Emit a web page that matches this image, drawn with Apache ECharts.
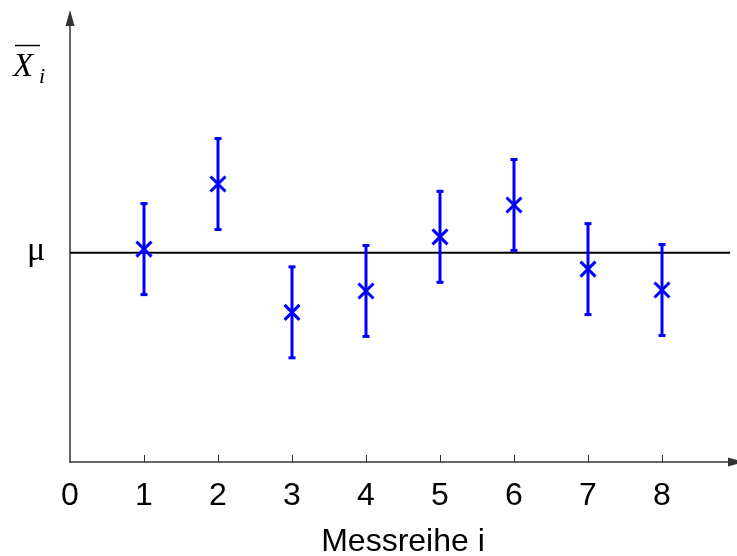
<!DOCTYPE html>
<html>
<head>
<meta charset="utf-8">
<script src="https://cdn.jsdelivr.net/npm/echarts@6/dist/echarts.min.js"></script>
<style>html,body{margin:0;padding:0;background:#fff}#c{width:737px;height:556px}</style>
</head>
<body>
<div id="c"></div>
<script>
// Data (mu = 0, error half-width = 1 unit)
const series_i = [1, 2, 3, 4, 5, 6, 7, 8];
const means = [0.08, 1.51, -1.31, -0.84, 0.35, 1.05, -0.36, -0.82];
const errors = [1, 1, 1, 1, 1, 1, 1, 1];
const mu = 0;
const xTicks = [0, 1, 2, 3, 4, 5, 6, 7, 8];
const xTickMarks = [1, 2, 3, 4, 5, 6, 7, 8];

const chart = echarts.init(document.getElementById('c'), null, {renderer: 'canvas'});
const blue = '#0000ff';
const data = series_i.map((x, k) => [x, means[k], means[k] - errors[k], means[k] + errors[k]]);

chart.setOption({
  animation: false,
  grid: {left: 70, right: 1, top: 18, bottom: 94, containLabel: false, outerBoundsMode: 'none'},
  xAxis: {
    type: 'value', min: 0, max: 9, interval: 1,
    splitLine: {show: false},
    axisLine: {onZero: false, lineStyle: {color: '#333', width: 1.5}, symbol: ['none', 'triangle'], symbolSize: [9, 16]},
    axisTick: {show: true, inside: true, length: 7, lineStyle: {color: '#333', width: 1}, customValues: xTickMarks},
    axisLabel: {customValues: xTicks, color: '#000', fontFamily: 'Liberation Sans', fontSize: 32, margin: 18},
    name: 'Messreihe i', nameLocation: 'middle', nameGap: 64,
    nameTextStyle: {color: '#000', fontFamily: 'Liberation Sans', fontSize: 32}
  },
  yAxis: {
    type: 'value', min: -4.6, max: 5.16,
    splitLine: {show: false},
    axisLine: {show: true, onZero: false, lineStyle: {color: '#333', width: 1.5}, symbol: ['none', 'triangle'], symbolSize: [9, 16]},
    axisTick: {show: false},
    axisLabel: {show: false}
  },
  series: [
    {
      type: 'line', data: [[0, mu], [8.92, mu]], symbol: 'none',
      lineStyle: {color: '#000', width: 2}, z: 1
    },
    {
      type: 'custom', z: 2,
      data: data,
      renderItem: function (params, api) {
        const x = api.value(0);
        const c = api.coord([x, api.value(1)]);
        const lo = api.coord([x, api.value(2)]);
        const hi = api.coord([x, api.value(3)]);
        const cw = 3.5, m = 7.5;
        const st = {stroke: blue, lineWidth: 3, fill: null};
        return {
          type: 'group',
          children: [
            {type: 'line', shape: {x1: c[0], y1: lo[1], x2: c[0], y2: hi[1]}, style: st},
            {type: 'line', shape: {x1: c[0] - cw, y1: lo[1], x2: c[0] + cw, y2: lo[1]}, style: st},
            {type: 'line', shape: {x1: c[0] - cw, y1: hi[1], x2: c[0] + cw, y2: hi[1]}, style: st},
            {type: 'line', shape: {x1: c[0] - m, y1: c[1] - m, x2: c[0] + m, y2: c[1] + m}, style: st},
            {type: 'line', shape: {x1: c[0] - m, y1: c[1] + m, x2: c[0] + m, y2: c[1] - m}, style: st}
          ]
        };
      }
    }
  ],
  graphic: [
    {type: 'text', x: 36, y: 251, style: {text: 'μ', font: '34px "Liberation Serif"', fill: '#000', align: 'center', verticalAlign: 'middle'}},
    {type: 'text', x: 13, y: 67, style: {text: 'X', font: 'italic 33px "Liberation Serif"', fill: '#000', align: 'left', verticalAlign: 'middle'}},
    {type: 'text', x: 39, y: 77, style: {text: 'i', font: 'italic 22px "Liberation Serif"', fill: '#000', align: 'left', verticalAlign: 'middle'}},
    {type: 'line', shape: {x1: 15, y1: 45.5, x2: 40, y2: 45.5}, style: {stroke: '#000', lineWidth: 1.5}}
  ]
});
</script>
</body>
</html>
